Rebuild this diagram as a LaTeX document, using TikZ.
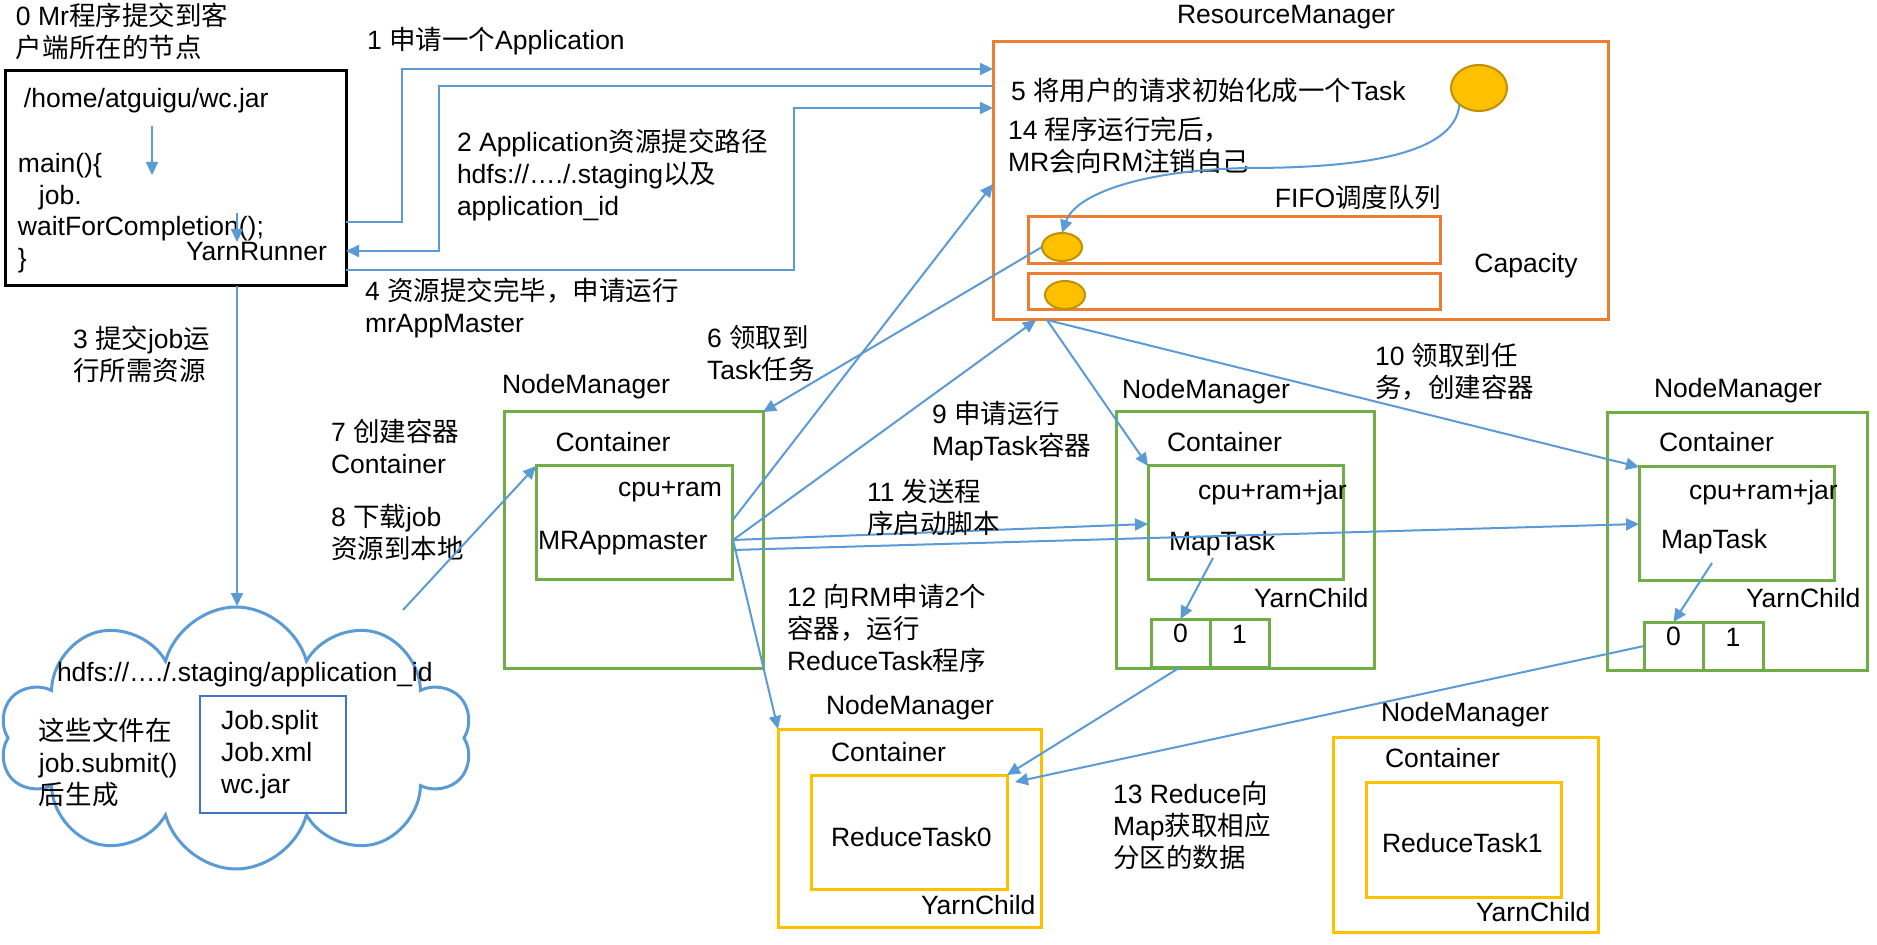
\documentclass[tikz,border=0pt]{standalone}
\usepackage{fontspec}
\setmainfont{Liberation Sans}
\newfontfamily\cjk{Noto Sans CJK SC}
\usetikzlibrary{arrows.meta,shapes.geometric,shapes.symbols,fit}
\definecolor{abl}{HTML}{5B9BD5}
\definecolor{org}{HTML}{ED7D31}
\definecolor{grn}{HTML}{70AD47}
\definecolor{ylw}{HTML}{FFC000}
\definecolor{gld}{HTML}{BF9000}
\definecolor{bbl}{HTML}{4472C4}
\newcommand\zh[1]{{\cjk #1}}
\newcommand\fs{\fontsize{13.25}{16}\selectfont}
\tikzset{
  lbl/.style={inner sep=0pt, outer sep=0pt, anchor=west, align=left, font=\fs},
  ctr/.style={inner sep=0pt, outer sep=0pt, font=\fs},
  box/.style={draw, inner sep=0pt, outer sep=0pt, line width=1.5pt, font=\fs},
  ell/.style={ellipse, draw=gld, fill=ylw, line width=1pt, inner sep=0pt, outer sep=0pt},
  arr/.style={draw=abl, line width=1pt, -{Triangle[length=6.5pt,width=6pt]}},
}
\begin{document}
\begin{tikzpicture}[x=0.5pt,y=-0.5pt]
\useasboundingbox (0,0) rectangle (1877,945);
\fill[white] (0,0) rectangle (1877,945);

% ---- client ----
\node[lbl] (t0) at (16,31.5) {0 Mr\zh{程序提交到客}\\\zh{户端所在的节点}};
\node[box, draw=black, fit={(5,71)(346,286)}] (client) {};
\node[lbl] (jar) at (24,101) {/home/atguigu/wc.jar};
\node[lbl] (main) at (18,166) {main()\{};
\node[lbl] (job) at (39,198) {job.};
\node[lbl] (wait) at (18,229) {waitForCompletion();};
\node[lbl] (brace) at (18,261) {\}};
\node[lbl] (yr) at (186,252) {YarnRunner};
\coordinate (s1a) at (152,126); \coordinate (s1b) at (152,175);
\coordinate (s2a) at (237,213); \coordinate (s2b) at (237,242);
\draw[arr] (s1a) -- (s1b);
\draw[arr] (s2a) -- (s2b);

% ---- cloud ----
\node[cloud, draw=abl, line width=1.5pt, cloud puffs=10, aspect=1.5, minimum width=236pt, minimum height=131pt, inner sep=0pt] (cloud) at (236,738) {};
\node[lbl] (hdfs) at (57,675) {hdfs://…./.staging/application\_id};
\node[box, draw=bbl, line width=1.2pt, fit={(200,696)(346,813)}] (files) {};
\node[lbl] (flist) at (221,755) {Job.split\\Job.xml\\wc.jar};
\node[lbl] (gen) at (39,762) {\zh{这些文件在}\\job.submit()\\\zh{后生成}};

% ---- client arrows ----
\coordinate (c3a) at (237,286); \coordinate (c3b) at (237,606);
\draw[arr] (c3a) -- (c3b);
\node[lbl] (l3) at (73,354) {3 \zh{提交}job\zh{运}\\\zh{行所需资源}};

% ---- ResourceManager ----
\node[ctr] (rmt) at (1286,17) {ResourceManager};
\node[box, draw=org, fit={(993,42)(1608,320)}] (rm) {};
\node[lbl] (l5) at (1011,90) {5 \zh{将用户的请求初始化成一个}Task};
\node[ell, minimum width=28pt, minimum height=23pt] (big) at (1479,88) {};
\node[lbl] (l14) at (1008,145) {14 \zh{程序运行完后，}\\MR\zh{会向}RM\zh{注销自己}};
\node[ctr] (fifo) at (1358,197) {FIFO\zh{调度队列}};
\node[box, draw=org, fit={(1028,217)(1440,264)}] (q1) {};
\node[box, draw=org, fit={(1028,274)(1440,310)}] (q2) {};
\node[ell, minimum width=20pt, minimum height=14pt] (e1) at (1062,247) {};
\node[ell, minimum width=20pt, minimum height=14pt] (e2) at (1065,295) {};
\node[ctr] (cap) at (1526,266) {Capacity};
\draw[arr] (big.220) .. controls (1455,155) and (1360,168) .. (1248,168) .. controls (1140,170) and (1075,195) .. (e1.north);

\draw[arr] (client.east |- 0,222) -| (402,69) -- (rm.west |- 0,69);
\draw[arr] (rm.west |- 0,86) -| (439,251) -- (client.east |- 0,251);
\draw[arr] (client.east |- 0,270) -| (794,108) -- (rm.west |- 0,108);
\node[lbl] (l1) at (367,41) {1 \zh{申请一个}Application};
\node[lbl] (l2) at (457,175) {2 Application\zh{资源提交路径}\\hdfs://…./.staging\zh{以及}\\application\_id};
\node[lbl] (l4) at (365,308) {4 \zh{资源提交完毕，申请运行}\\mrAppMaster};

% ---- NodeManager 1 ----
\node[ctr] (nm1t) at (586,387) {NodeManager};
\node[box, draw=grn, fit={(504,412)(763,668)}] (nm1) {};
\node[ctr] (nm1c) at (613,442) {Container};
\node[box, draw=grn, fit={(536,466)(732,580)}] (nm1i) {};
\node[ctr] (cr1) at (670,492) {cpu+ram};
\node[lbl] (mra) at (538,543) {MRAppmaster};
\node[lbl] (l7) at (331,446) {7 \zh{创建容器}\\Container};
\node[lbl] (l8) at (331,532) {8 \zh{下载}job\\\zh{资源到本地}};
\node[lbl] (l6) at (707,353) {6 \zh{领取到}\\Task\zh{任务}};
\coordinate (c8) at (403,610);
\draw[arr] (c8) -- (nm1i.north west);
\draw[arr] (e1.west) -- (nm1.north east);

% ---- NodeManager 2 ----
\node[ctr] (nm2t) at (1206,392) {NodeManager};
\node[box, draw=grn, fit={(1116,412)(1374,668)}] (nm2) {};
\node[lbl] (nm2c) at (1167,442) {Container};
\node[box, draw=grn, fit={(1148,466)(1343,580)}] (nm2i) {};
\node[lbl] (cr2) at (1198,493) {cpu+ram+jar};
\node[lbl] (mt2) at (1169,544) {MapTask};
\node[lbl] (yc2) at (1254,598) {YarnChild};
\node[box, draw=grn, fit={(1151,619)(1210,667)}] (c20) {0};
\node[box, draw=grn, fit={(1210,619)(1269,667)}] (c21) {1};
\coordinate (mt2a) at (1213,558);
\draw[arr] (mt2a) -- (c20.north);

% ---- NodeManager 3 ----
\node[ctr] (nm3t) at (1738,391) {NodeManager};
\node[box, draw=grn, fit={(1607,413)(1867,670)}] (nm3) {};
\node[lbl] (nm3c) at (1659,442) {Container};
\node[box, draw=grn, fit={(1639,467)(1834,581)}] (nm3i) {};
\node[lbl] (cr3) at (1689,493) {cpu+ram+jar};
\node[lbl] (mt3) at (1661,542) {MapTask};
\node[lbl] (yc3) at (1746,598) {YarnChild};
\node[box, draw=grn, fit={(1644,622)(1703,670)}] (c30) {0};
\node[box, draw=grn, fit={(1703,622)(1763,670)}] (c31) {1};
\coordinate (mt3a) at (1712,563);
\draw[arr] (mt3a) -- (c30.north);

% ---- NodeManager 4 ----
\node[ctr] (nm4t) at (910,708) {NodeManager};
\node[box, draw=ylw, fit={(778,729)(1041,927)}] (nm4) {};
\node[lbl] (nm4c) at (831,752) {Container};
\node[box, draw=ylw, fit={(811,775)(1007,889)}] (nm4i) {};
\node[lbl] (rt0) at (831,837) {ReduceTask0};
\node[lbl] (yc4) at (921,905) {YarnChild};

% ---- NodeManager 5 ----
\node[ctr] (nm5t) at (1465,715) {NodeManager};
\node[box, draw=ylw, fit={(1333,737)(1598,932)}] (nm5) {};
\node[lbl] (nm5c) at (1385,758) {Container};
\node[box, draw=ylw, fit={(1366,782)(1561,897)}] (nm5i) {};
\node[lbl] (rt1) at (1382,843) {ReduceTask1};
\node[lbl] (yc5) at (1476,912) {YarnChild};

% ---- MRAppmaster connectors ----
\coordinate (m1) at (732,521);
\coordinate (m2) at (733,540);
\coordinate (m3) at (733,550);
\coordinate (r6) at (993,184);
\coordinate (r9) at (1036,320);
\coordinate (r10) at (1047,320);
\draw[arr] (m1) -- (r6);
\draw[arr] (m2) -- (r9);
\draw[arr] (m2) -- (nm2i.west |- 0,524);
\draw[arr] (m3) -- (nm3i.west |- 0,524);
\draw[arr] (m2) -- (nm4.north west);
\draw[arr] (r10) -- (nm2i.north west);
\draw[arr] (r10) -- (nm3i.north west);
\draw[arr] (c20.south) -- (nm4i.north east);
\draw[arr] (c30.west) -- ([shift={(8,7)}]nm4i.north east);

\node[lbl] (l9) at (932,431) {9 \zh{申请运行}\\MapTask\zh{容器}};
\node[lbl] (l11) at (867,507) {11 \zh{发送程}\\\zh{序启动脚本}};
\node[lbl] (l12) at (787,628) {12 \zh{向}RM\zh{申请}2\zh{个}\\\zh{容器，运行}\\ReduceTask\zh{程序}};
\node[lbl] (l10) at (1375,372) {10 \zh{领取到任}\\\zh{务，创建容器}};
\node[lbl] (l13) at (1113,825) {13 Reduce\zh{向}\\Map\zh{获取相应}\\\zh{分区的数据}};
\end{tikzpicture}
\end{document}
